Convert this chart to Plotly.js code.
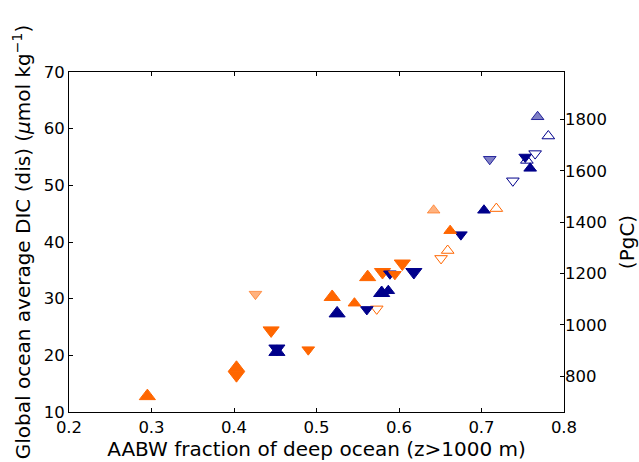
<!DOCTYPE html>
<html>
<head>
<meta charset="utf-8">
<script src="https://cdn.plot.ly/plotly-3.0.1.min.js"></script>
<style>html,body{margin:0;padding:0;background:#fff;}#chart{width:639px;height:462px;}</style>
</head>
<body>
<div id="chart"></div>
<script>
// AABW fraction (x) and global ocean average DIC (dis) (y), grouped by marker style
var orangeUpBigX = [0.295, 0.403, 0.519, 0.562];
var orangeUpBigY = [12.8, 17.8, 30.3, 33.8];
var orangeDnBigX = [0.403, 0.445, 0.580, 0.604];
var orangeDnBigY = [16.5, 24.4, 34.7, 36.2];
var navyUpBigX = [0.452, 0.525, 0.579];
var navyUpBigY = [20.6, 27.4, 31.0];
var navyDnBigX = [0.452, 0.618];
var navyDnBigY = [21.2, 34.7];
var navyUpX = [0.587, 0.703, 0.759];
var navyUpY = [31.4, 45.6, 53.0];
var navyDnX = [0.561, 0.589, 0.675, 0.753];
var navyDnY = [28.1, 34.4, 41.3, 55.0];
var orangeUpX = [0.546, 0.662];
var orangeUpY = [29.2, 42.0];
var orangeDnX = [0.490, 0.595];
var orangeDnY = [21.0, 34.3];
var orangeLightUpX = [0.642];
var orangeLightUpY = [45.6];
var orangeLightDnX = [0.426];
var orangeLightDnY = [30.8];
var navyLightUpX = [0.768];
var navyLightUpY = [62.1];
var navyLightDnX = [0.710];
var navyLightDnY = [54.6];
var orangeOpenUpX = [0.659, 0.718];
var orangeOpenUpY = [38.5, 45.9];
var orangeOpenDnX = [0.573, 0.651];
var orangeOpenDnY = [28.2, 37.1];
var navyOpenUpX = [0.755, 0.781];
var navyOpenUpY = [54.4, 58.7];
var navyOpenDnX = [0.738, 0.765];
var navyOpenDnY = [50.8, 55.6];

var xTicks = [0.2, 0.3, 0.4, 0.5, 0.6, 0.7, 0.8];
var yTicks = [10, 20, 30, 40, 50, 60, 70];
var y2Ticks = [800, 1000, 1200, 1400, 1600, 1800];

var OR = '#ff6600', NV = '#00008b';
var BIG = 14, MED = 11;

function tr(x, y, sym, size, fill, line) {
  return {x: x, y: y, type: 'scatter', mode: 'markers', hoverinfo: 'skip', showlegend: false,
    marker: {symbol: sym, size: size, color: fill, line: {color: line, width: 1}}};
}

var data = [
  tr(orangeUpBigX, orangeUpBigY, 'triangle-up', BIG, OR, OR),
  tr(orangeDnBigX, orangeDnBigY, 'triangle-down', BIG, OR, OR),
  tr(navyUpBigX, navyUpBigY, 'triangle-up', BIG, NV, NV),
  tr(navyDnBigX, navyDnBigY, 'triangle-down', BIG, NV, NV),
  tr(orangeLightUpX, orangeLightUpY, 'triangle-up', MED, 'rgba(255,102,0,0.5)', 'rgba(255,102,0,0.6)'),
  tr(orangeLightDnX, orangeLightDnY, 'triangle-down', MED, 'rgba(255,102,0,0.5)', 'rgba(255,102,0,0.6)'),
  tr(navyLightUpX, navyLightUpY, 'triangle-up', MED, 'rgba(0,0,139,0.5)', 'rgba(0,0,139,0.8)'),
  tr(navyLightDnX, navyLightDnY, 'triangle-down', MED, 'rgba(0,0,139,0.5)', 'rgba(0,0,139,0.8)'),
  tr(orangeOpenUpX, orangeOpenUpY, 'triangle-up', MED, 'rgba(255,255,255,0)', OR),
  tr(orangeOpenDnX, orangeOpenDnY, 'triangle-down', MED, 'rgba(255,255,255,0)', OR),
  tr(navyOpenUpX, navyOpenUpY, 'triangle-up', MED, 'rgba(255,255,255,0)', NV),
  tr(navyOpenDnX, navyOpenDnY, 'triangle-down', MED, 'rgba(255,255,255,0)', NV),
  tr(navyDnX, navyDnY, 'triangle-down', MED, NV, NV),
  tr(navyUpX, navyUpY, 'triangle-up', MED, NV, NV),
  tr(orangeUpX, orangeUpY, 'triangle-up', MED, OR, OR),
  tr(orangeDnX, orangeDnY, 'triangle-down', MED, OR, OR),
  {x: [], y: [], type: 'scatter', mode: 'markers', yaxis: 'y2', showlegend: false, hoverinfo: 'skip'}
];

var FF = 'DejaVu Sans, sans-serif';
var TICK = 16.5, TITLE = 20;
var layout = {
  width: 639, height: 462,
  margin: {l: 68.5, r: 75, t: 71.7, b: 50.3, pad: 0},
  paper_bgcolor: '#fff', plot_bgcolor: '#fff',
  font: {family: FF, size: TICK, color: '#000'},
  showlegend: false,
  xaxis: {
    range: [0.2, 0.8], tickvals: xTicks, ticktext: xTicks.map(function(v){return v.toFixed(1);}),
    ticks: 'inside', ticklen: 4, tickwidth: 1, tickcolor: '#000',
    showline: true, linecolor: '#000', linewidth: 1, mirror: 'ticks',
    showgrid: false, zeroline: false, automargin: false,
    tickfont: {family: FF, size: TICK, color: '#000'},
    title: {text: 'AABW fraction of deep ocean (z>1000 m)', font: {family: FF, size: TITLE, color: '#000'}, standoff: 3}
  },
  yaxis: {
    range: [10, 70], tickvals: yTicks,
    ticks: 'inside', ticklen: 4, tickwidth: 1, tickcolor: '#000',
    showline: true, linecolor: '#000', linewidth: 1, mirror: true,
    showgrid: false, zeroline: false, automargin: false,
    tickfont: {family: FF, size: TICK, color: '#000'},
    title: {text: 'Global ocean average DIC (dis) (<i>μ</i>mol kg<sup>−1</sup>)', font: {family: FF, size: TITLE, color: '#000'}, standoff: 7}
  },
  yaxis2: {
    overlaying: 'y', side: 'right', range: [660.7, 1985], tickvals: y2Ticks,
    ticks: 'inside', ticklen: 4, tickwidth: 1, tickcolor: '#000',
    showline: false, showgrid: false, zeroline: false, automargin: false,
    tickfont: {family: FF, size: TICK, color: '#000'},
    title: {text: '(PgC)', font: {family: FF, size: TITLE, color: '#000'}, standoff: 13}
  }
};

Plotly.newPlot('chart', data, layout, {staticPlot: true, displayModeBar: false});
</script>
</body>
</html>
